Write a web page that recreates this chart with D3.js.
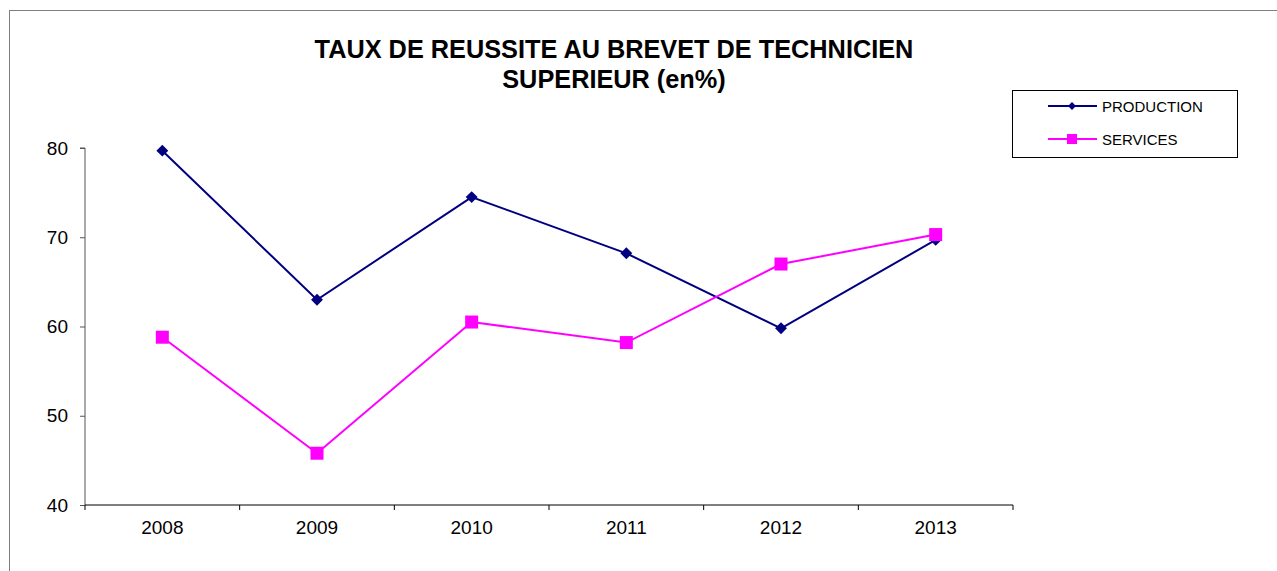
<!DOCTYPE html>
<html lang="fr">
<head>
<meta charset="utf-8">
<title>Taux de réussite BTS</title>
<style>
  body { margin: 0; background: #fff; }
  svg text { font-family: "Liberation Sans", Arial, sans-serif; }
</style>
</head>
<body>
<svg id="chart" width="1277" height="571"></svg>
<script src="https://d3js.org/d3.v7.min.js"></script>
<script>
var years = ["2008", "2009", "2010", "2011", "2012", "2013"];
var production = [79.7, 63.0, 74.5, 68.2, 59.8, 69.7];
var services = [58.8, 45.8, 60.5, 58.2, 67.0, 70.3];
var yTicks = [40, 50, 60, 70, 80];
var titleLines = ["TAUX DE REUSSITE AU BREVET DE TECHNICIEN", "SUPERIEUR (en%)"];

var svg = d3.select("#chart");

// cadre extérieur
svg.append("rect")
  .attr("x", 9.5).attr("y", 10.5)
  .attr("width", 1290).attr("height", 600)
  .attr("fill", "none").attr("stroke", "#7f7f7f").attr("stroke-width", 1);

var plotLeft = 85, plotRight = 1013, plotTop = 148, plotBottom = 505;

var x = d3.scaleBand().domain(years).range([plotLeft, plotRight]);
var y = d3.scaleLinear().domain([40, 80]).range([plotBottom, plotTop]);

// titre
svg.append("g").selectAll("text")
  .data(titleLines)
  .enter().append("text")
  .attr("x", 614)
  .attr("y", function(d, i) { return 58 + i * 30; })
  .attr("text-anchor", "middle")
  .attr("font-size", 25.3)
  .attr("font-weight", "bold")
  .text(function(d) { return d; });

// axe Y
var yAxis = svg.append("g")
  .attr("transform", "translate(" + plotLeft + ",0)")
  .call(d3.axisLeft(y).tickValues(yTicks).tickSize(5).tickPadding(12));
yAxis.select(".domain").attr("stroke", "#555").attr("d", "M-5," + y(80) + "H0V" + plotBottom);
yAxis.selectAll(".tick line").attr("stroke", "#555");
yAxis.selectAll("text").attr("font-size", 19).attr("fill", "#000")
  .attr("font-family", "'Liberation Sans', Arial, sans-serif");

// axe X
var xAxis = svg.append("g")
  .attr("transform", "translate(0," + plotBottom + ")")
  .call(d3.axisBottom(x).tickSize(0).tickPadding(16));
xAxis.select(".domain").attr("stroke", "#000").attr("d", "M" + plotLeft + ",0H" + plotRight);
xAxis.selectAll("text").attr("font-size", 19).attr("fill", "#000")
  .attr("font-family", "'Liberation Sans', Arial, sans-serif");
var bounds = years.map(function(d) { return x(d); }).concat([plotRight]);
xAxis.selectAll(".sep").data(bounds).enter().append("line")
  .attr("x1", function(d) { return d; }).attr("x2", function(d) { return d; })
  .attr("y1", 0).attr("y2", 5)
  .attr("stroke", "#000");

var cx = function(d, i) { return x(years[i]) + x.bandwidth() / 2; };
var line = d3.line().x(cx).y(function(d) { return y(d); });

// PRODUCTION
svg.append("path").datum(production)
  .attr("d", line).attr("fill", "none")
  .attr("stroke", "#000080").attr("stroke-width", 2);
svg.append("g").selectAll("path").data(production).enter().append("path")
  .attr("d", d3.symbol().type(d3.symbolDiamond2).size(90))
  .attr("transform", function(d, i) { return "translate(" + cx(d, i) + "," + y(d) + ")"; })
  .attr("fill", "#000080");

// SERVICES
svg.append("path").datum(services)
  .attr("d", line).attr("fill", "none")
  .attr("stroke", "#ff00ff").attr("stroke-width", 2);
svg.append("g").selectAll("rect").data(services).enter().append("rect")
  .attr("x", function(d, i) { return cx(d, i) - 6.5; })
  .attr("y", function(d) { return y(d) - 6.5; })
  .attr("width", 13).attr("height", 13)
  .attr("fill", "#ff00ff");

// légende
var legend = svg.append("g");
legend.append("rect")
  .attr("x", 1012.5).attr("y", 90.5).attr("width", 225).attr("height", 67)
  .attr("fill", "#fff").attr("stroke", "#000");
var legendItems = [
  {name: "PRODUCTION", color: "#000080", marker: "diamond"},
  {name: "SERVICES", color: "#ff00ff", marker: "square"}
];
legendItems.forEach(function(it, i) {
  var ly = 106 + i * 33;
  legend.append("line")
    .attr("x1", 1048).attr("x2", 1097).attr("y1", ly).attr("y2", ly)
    .attr("stroke", it.color).attr("stroke-width", 2);
  if (it.marker === "diamond") {
    legend.append("path")
      .attr("d", d3.symbol().type(d3.symbolDiamond2).size(40))
      .attr("transform", "translate(1072," + ly + ")")
      .attr("fill", it.color);
  } else {
    legend.append("rect")
      .attr("x", 1067).attr("y", ly - 5).attr("width", 10).attr("height", 10)
      .attr("fill", it.color);
  }
  legend.append("text")
    .attr("x", 1102).attr("y", ly + 5.5)
    .attr("font-size", 15)
    .text(it.name);
});
</script>
</body>
</html>
